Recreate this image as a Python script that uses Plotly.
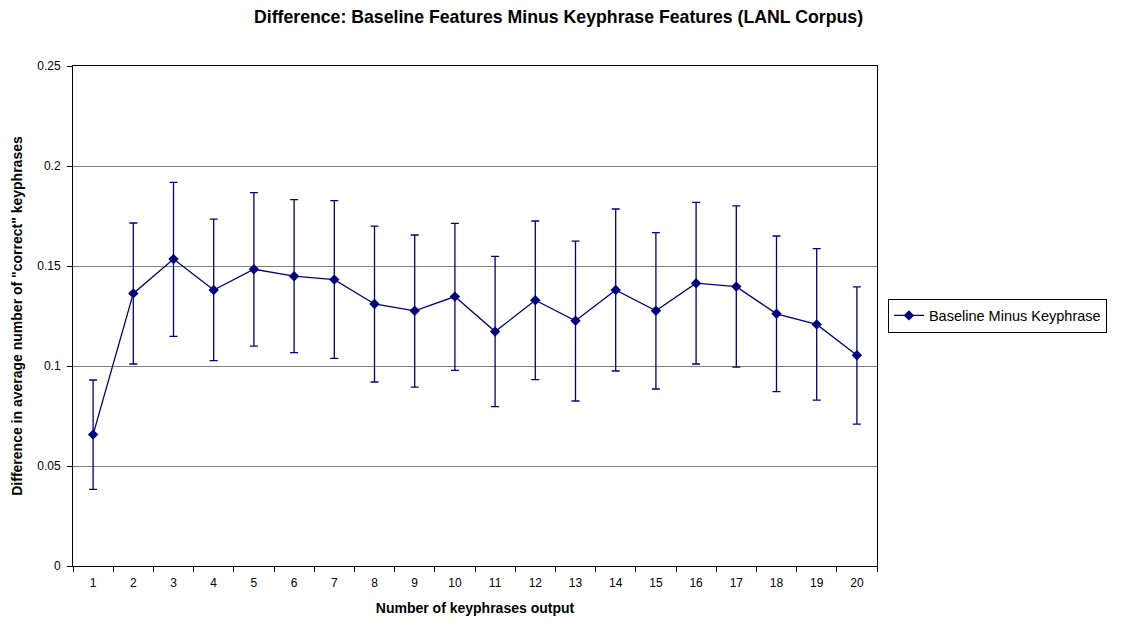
import plotly.graph_objects as go

categories = [str(i) for i in range(1, 21)]
values = [0.0657, 0.1363, 0.1535, 0.1380, 0.1484, 0.1449, 0.1432, 0.1310, 0.1276, 0.1347,
          0.1172, 0.1329, 0.1226, 0.1380, 0.1276, 0.1414, 0.1397, 0.1261, 0.1208, 0.1054]
err_plus = [0.0273, 0.0352, 0.0383, 0.0354, 0.0383, 0.0383, 0.0395, 0.0389, 0.0379, 0.0366,
            0.0376, 0.0396, 0.0398, 0.0405, 0.0391, 0.0404, 0.0404, 0.0389, 0.0379, 0.0342]
err_minus = [0.0274, 0.0353, 0.0387, 0.0353, 0.0385, 0.0382, 0.0394, 0.0390, 0.0382, 0.0369,
             0.0375, 0.0397, 0.0401, 0.0405, 0.0391, 0.0404, 0.0403, 0.0389, 0.0379, 0.0345]

NAVY = "#000080"
FONT = "Liberation Sans, Arial, sans-serif"

fig = go.Figure()
fig.add_trace(go.Scatter(
    x=categories, y=values, mode="lines+markers", name="Baseline Minus Keyphrase",
    line=dict(color=NAVY, width=1.3),
    marker=dict(symbol="diamond", size=8, color=NAVY),
    error_y=dict(type="data", symmetric=False, array=err_plus, arrayminus=err_minus,
                 color=NAVY, thickness=1.3, width=4),
))

fig.update_layout(
    width=1111, height=608,
    margin=dict(l=65, r=239, t=58, b=50),
    paper_bgcolor="white", plot_bgcolor="white",
    font=dict(family=FONT, size=12, color="black"),
    title=dict(text="<b>Difference: Baseline Features Minus Keyphrase Features (LANL Corpus)</b>",
               x=0.4955, xanchor="center", y=0.985, yanchor="middle",
               font=dict(family=FONT, size=17.7, color="black")),
    showlegend=True,
    legend=dict(x=1.0136, xanchor="left", y=0.501, yanchor="middle",
                bordercolor="black", borderwidth=1, bgcolor="white",
                font=dict(family=FONT, size=14.5, color="black"),
                tracegroupgap=0, itemwidth=30),
)

fig.update_xaxes(
    type="category", range=[-0.5, 19.5], tickson="boundaries", ticks="outside", ticklen=5,
    tickcolor="black", automargin=False, ticklabelstandoff=6,
    showline=True, linecolor="black", linewidth=1, mirror=True, showgrid=False,
    tickfont=dict(family=FONT, size=12, color="black"),
    title=dict(text="<b>Number of keyphrases output</b>", standoff=22,
               font=dict(family=FONT, size=14, color="black")),
)
fig.update_yaxes(
    range=[0, 0.25], dtick=0.05, tick0=0, ticks="outside", ticklen=5, tickcolor="black",
    automargin=False, ticklabelstandoff=4,
    showline=True, linecolor="black", linewidth=1, mirror=True,
    showgrid=True, gridcolor="#808080", gridwidth=1, zeroline=False,
    tickfont=dict(family=FONT, size=12, color="black"),
    title=dict(text="<b>Difference in average number of \"correct\" keyphrases</b>", standoff=11,
               font=dict(family=FONT, size=14, color="black")),
)

fig.write_html("out.html")
